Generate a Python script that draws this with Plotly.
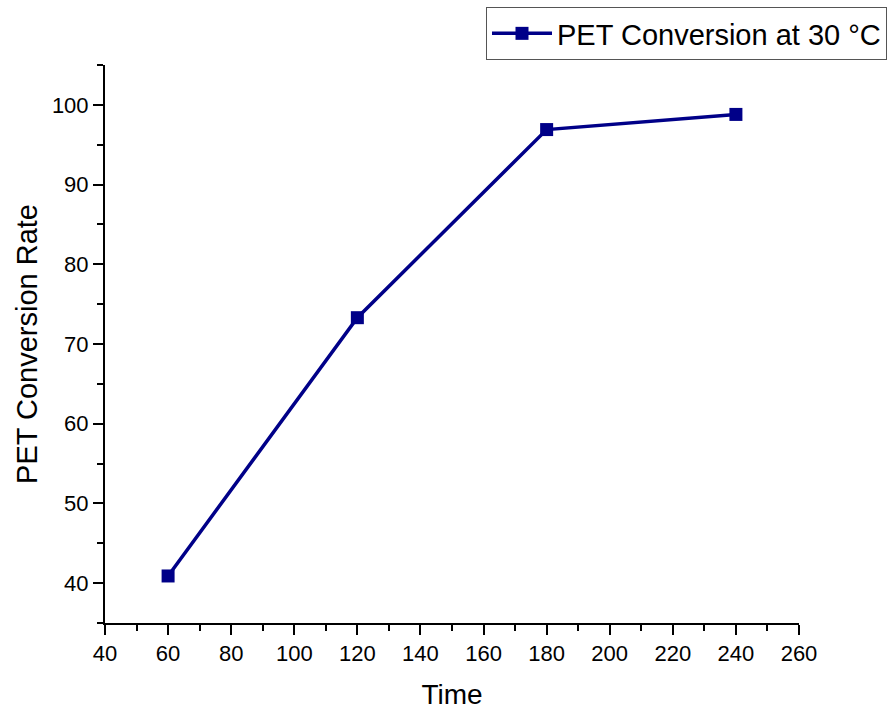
import plotly.graph_objects as go

time = [60, 120, 180, 240]
conversion = [40.9, 73.3, 96.9, 98.8]
series_name = "PET Conversion at 30 °C"
x_title = "Time"
y_title = "PET Conversion Rate"

W, H = 892, 710
L, R, T, B = 105, 93, 65, 87
color = "#000088"
font = "Liberation Sans, Arial, sans-serif"

fig = go.Figure()
fig.add_trace(go.Scatter(
    x=time, y=conversion, mode="lines+markers", name=series_name,
    line=dict(color=color, width=3.5),
    marker=dict(symbol="square", size=13, color=color),
))

axis_common = dict(
    showline=True, linecolor="black", linewidth=2, mirror=False,
    showgrid=False, zeroline=False,
    ticks="outside", ticklen=10, tickwidth=2, tickcolor="black",
    tickfont=dict(family=font, size=22, color="black"),
    automargin=False,
)

fig.update_xaxes(
    range=[40, 260], tick0=40, dtick=20, tickangle=0,
    minor=dict(ticks="outside", ticklen=6, tickwidth=2, tickcolor="black", dtick=10, tick0=40),
    title=dict(text=x_title, font=dict(family=font, size=28, color="black"), standoff=20),
    **axis_common,
)
fig.update_yaxes(
    range=[35, 105], tick0=40, dtick=10,
    minor=dict(ticks="outside", ticklen=6, tickwidth=2, tickcolor="black", dtick=5, tick0=35),
    title=dict(text=y_title, font=dict(family=font, size=29, color="black"), standoff=6),
    **axis_common,
)

fig.update_layout(
    width=W, height=H,
    margin=dict(l=L, r=R, t=T, b=B, autoexpand=False),
    plot_bgcolor="white", paper_bgcolor="white",
    showlegend=True,
    legend=dict(
        xref="container", yref="container",
        x=887 / W, xanchor="right", y=1 - 7 / H, yanchor="top",
        bordercolor="#555555", borderwidth=1, bgcolor="white",
        font=dict(family=font, size=29, color="black"),
        itemwidth=60,
    ),
)

fig.write_html("out.html")
